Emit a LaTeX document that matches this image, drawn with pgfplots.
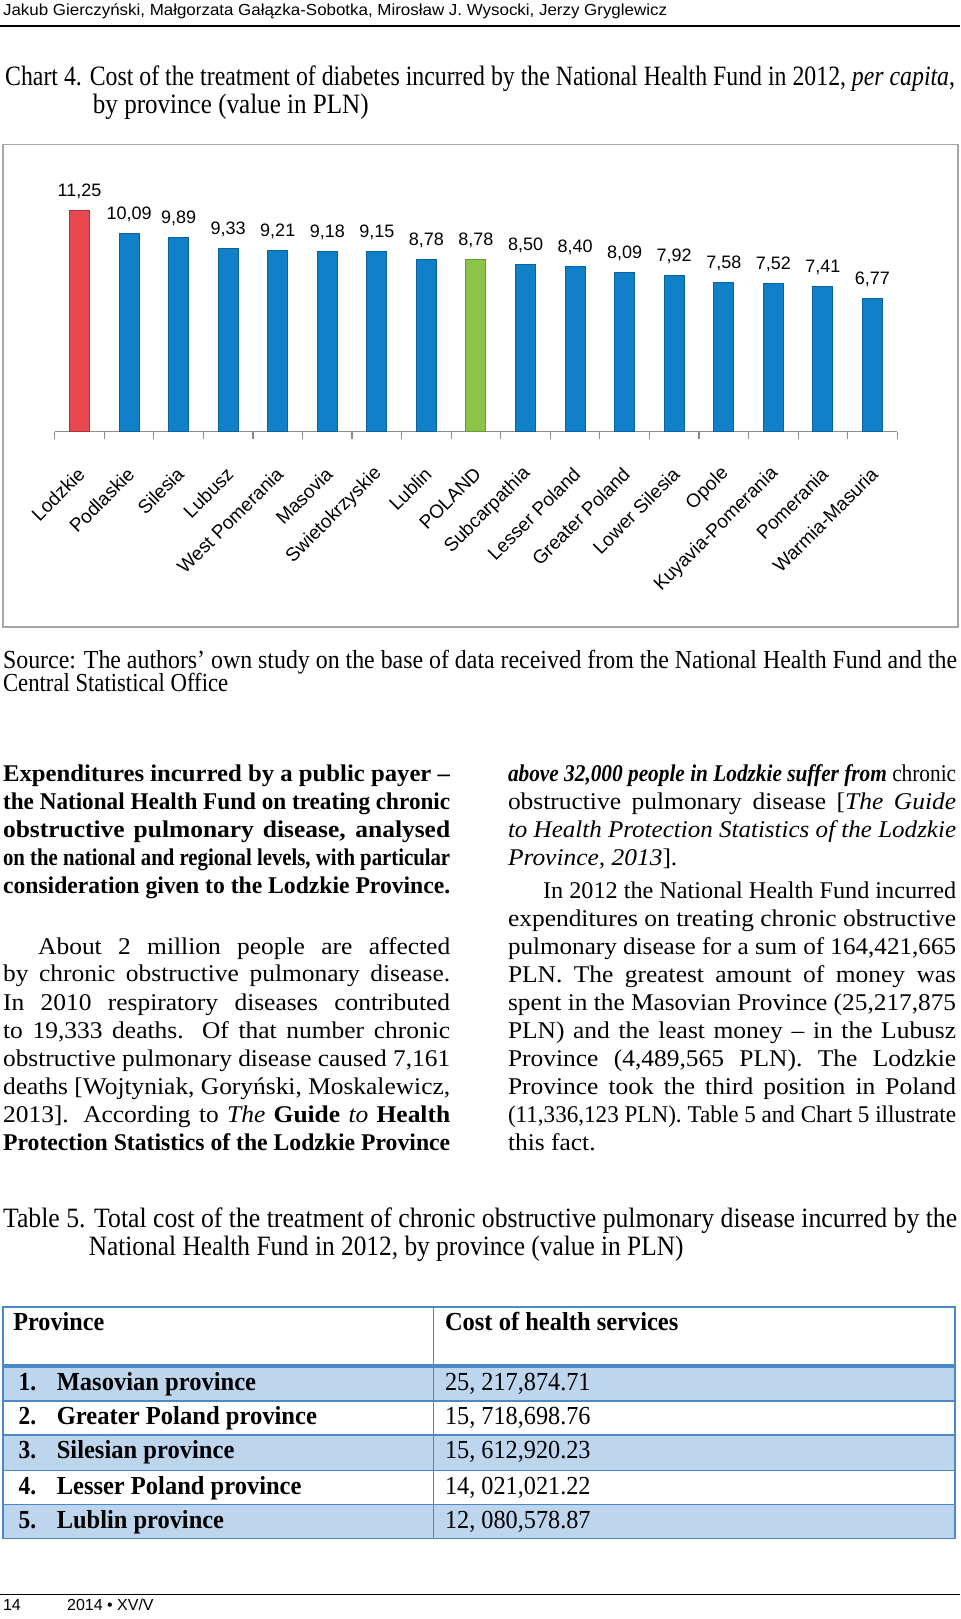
\documentclass[border=0pt]{standalone}
\usepackage{pgfplots}
\pgfplotsset{compat=1.18}
\usepackage{fontspec}
\setmainfont{Liberation Serif}
\setsansfont{Liberation Sans}
\usepackage{graphicx}

\definecolor{barblue}{HTML}{1080C8}
\definecolor{barblueD}{HTML}{0B609E}
\definecolor{barred}{HTML}{E84850}
\definecolor{barredD}{HTML}{B82D35}
\definecolor{bargreen}{HTML}{8CC44A}
\definecolor{bargreenD}{HTML}{659E30}
\definecolor{tblue}{HTML}{4A88C7}
\definecolor{tfill}{HTML}{BDD6EE}
\definecolor{boxgray}{HTML}{A6A6A6}
\definecolor{axgray}{HTML}{8C8C8C}

\newdimen\pxu \pxu=0.516129pt
\newlength\jlw \newlength\jtw
% justify a line to a width given in px
\newcommand\jline[3][1]{\pgfmathsetlength\jtw{#2*0.516129/#1}\settowidth\jlw{#3}%
 \ifdim\jlw>\jtw\relax\resizebox{#2\pxu}{\height}{#3}\else\scalebox{#1}[1]{\makebox[\jtw][s]{#3}}\fi}
% scale a line to a width given in px
\newcommand\fline[2]{\resizebox{#1\pxu}{\height}{#2}}
\newcommand\bodyf{\fontsize{12}{14}\selectfont}
\newcommand\capf{\fontsize{14}{16}\selectfont}
\newcommand\tabf{\fontsize{13}{15}\selectfont}

\begin{document}
\begin{tikzpicture}[x=0.516129pt,y=-0.516129pt,t/.style={anchor=base west,inner sep=0pt,outer sep=0pt}]
\path[use as bounding box] (0,0) rectangle (930,1568);

% header
\node[t] at (3,15) {\sffamily\fontsize{8}{9}\selectfont\fline{643}{Jakub Gierczyński, Małgorzata Gałązka-Sobotka, Mirosław J. Wysocki, Jerzy Gryglewicz}};
\draw[line width=0.7pt] (0,25) -- (930,25);

% chart caption
\node[t] at (5,83) {\capf\jline[0.88]{920}{Chart 4. Cost of the treatment of diabetes incurred by the National Health Fund in 2012, \textit{per capita},}};
\node[t] at (90,110) {\capf\fline{267}{by province (value in PLN)}};

% chart frame
\draw[boxgray, line width=0.8pt] (3,140) rectangle (928,607);

\begin{axis}[
  at={(27.355pt,-215.742pt)}, anchor=south west, scale only axis,
  width=421.16pt, height=137.5pt,
  xmin=-0.5, xmax=16.5, ymin=0, ymax=14,
  enlargelimits=false, clip=false,
  axis x line*=bottom, axis y line=none,
  axis line style={draw=axgray, line width=0.7pt, -},
  xtick={0,...,16},
  xticklabels={Lodzkie, Podlaskie, Silesia, Lubusz, West Pomerania, Masovia, Swietokrzyskie, Lublin, POLAND, Subcarpathia, Lesser Poland, Greater Poland, Lower Silesia, Opole, Kuyavia-Pomerania, Pomerania, Warmia-Masuria},
  minor xtick={-0.5,0.5,...,16.5},
  major tick length=0pt, minor tick length=3.6pt, tick align=outside,
  minor tick style={draw=axgray, line width=0.6pt},
  xticklabel style={font=\sffamily\fontsize{9.5}{10}\selectfont, yshift=-19.5pt, xshift=1pt, rotate=45, anchor=east, inner sep=0pt},
  ytick=\empty,
  nodes near coords, point meta=explicit symbolic,
  every node near coord/.append style={font=\sffamily\fontsize{9}{10}\selectfont, anchor=base, inner sep=0pt, yshift=7pt, text=black},
  bB/.style={ybar, bar width=10pt, bar shift=0pt, draw=barblueD, line width=0.5pt, fill=barblue},
  bR/.style={ybar, bar width=10pt, bar shift=0pt, draw=barredD, line width=0.5pt, fill=barred},
  bG/.style={ybar, bar width=10pt, bar shift=0pt, draw=bargreenD, line width=0.5pt, fill=bargreen},
]
\addplot[bR] coordinates {(0,11.25) [11,25]};
\addplot[bB] coordinates {(1,10.09) [10,09]};
\addplot[bB] coordinates {(2,9.89) [9,89]};
\addplot[bB] coordinates {(3,9.33) [9,33]};
\addplot[bB] coordinates {(4,9.21) [9,21]};
\addplot[bB] coordinates {(5,9.18) [9,18]};
\addplot[bB] coordinates {(6,9.15) [9,15]};
\addplot[bB] coordinates {(7,8.78) [8,78]};
\addplot[bG] coordinates {(8,8.78) [8,78]};
\addplot[bB] coordinates {(9,8.50) [8,50]};
\addplot[bB] coordinates {(10,8.40) [8,40]};
\addplot[bB] coordinates {(11,8.09) [8,09]};
\addplot[bB] coordinates {(12,7.92) [7,92]};
\addplot[bB] coordinates {(13,7.58) [7,58]};
\addplot[bB] coordinates {(14,7.52) [7,52]};
\addplot[bB] coordinates {(15,7.41) [7,41]};
\addplot[bB] coordinates {(16,6.77) [6,77]};
\end{axis}

% source
\node[t] at (3,647) {\fontsize{13}{15}\selectfont\jline[0.92]{924}{Source: The authors’ own study on the base of data received from the National Health Fund and the}};
\node[t] at (3,670) {\fontsize{13}{15}\selectfont\fline{218}{Central Statistical Office}};

% left column
\node[t] at (3,757) {\bodyf\jline[1.06]{433}{\textbf{Expenditures incurred by a public payer –}}};
\node[t] at (3,784) {\bodyf\jline[1.06]{433}{\textbf{the National Health Fund on treating chronic}}};
\node[t] at (3,811) {\bodyf\jline[1.06]{433}{\textbf{obstructive pulmonary disease, analysed}}};
\node[t] at (3,838) {\bodyf\jline[1.06]{433}{\textbf{on the national and regional levels, with particular}}};
\node[t] at (3,865) {\bodyf\jline[1.06]{433}{\textbf{consideration given to the Lodzkie Province.}}};
\node[t] at (37,924) {\bodyf\jline[1.06]{399}{About 2 million people are affected}};
\node[t] at (3,951) {\bodyf\jline[1.06]{433}{by chronic obstructive pulmonary disease.}};
\node[t] at (3,979) {\bodyf\jline[1.06]{433}{In 2010 respiratory diseases contributed}};
\node[t] at (3,1006) {\bodyf\jline[1.06]{433}{to 19,333 deaths. Of that number chronic}};
\node[t] at (3,1033) {\bodyf\jline[1.06]{433}{obstructive pulmonary disease caused 7,161}};
\node[t] at (3,1060) {\bodyf\jline[1.06]{433}{deaths [Wojtyniak, Goryński, Moskalewicz,}};
\node[t] at (3,1087) {\bodyf\jline[1.06]{433}{2013]. According to \textit{The} \textbf{Guide} \textit{to} \textbf{Health}}};
\node[t] at (3,1114) {\bodyf\jline[1.06]{433}{\textbf{Protection Statistics of the Lodzkie Province}}};

% right column
\node[t] at (492,757) {\bodyf\jline[1.06]{434}{\textbf{\textit{above 32,000 people in Lodzkie suffer from}} chronic}};
\node[t] at (492,784) {\bodyf\jline[1.06]{434}{obstructive pulmonary disease [\textit{The Guide}}};
\node[t] at (492,811) {\bodyf\jline[1.06]{434}{\textit{to Health Protection Statistics of the Lodzkie}}};
\node[t] at (492,838) {\bodyf\scalebox{1.06}[1]{\textit{Province, 2013}].}};
\node[t] at (526,870) {\bodyf\jline[1.06]{400}{In 2012 the National Health Fund incurred}};
\node[t] at (492,897) {\bodyf\jline[1.06]{434}{expenditures on treating chronic obstructive}};
\node[t] at (492,924) {\bodyf\jline[1.06]{434}{pulmonary disease for a sum of 164,421,665}};
\node[t] at (492,952) {\bodyf\jline[1.06]{434}{PLN. The greatest amount of money was}};
\node[t] at (492,979) {\bodyf\jline[1.06]{434}{spent in the Masovian Province (25,217,875}};
\node[t] at (492,1006) {\bodyf\jline[1.06]{434}{PLN) and the least money – in the Lubusz}};
\node[t] at (492,1033) {\bodyf\jline[1.06]{434}{Province (4,489,565 PLN). The Lodzkie}};
\node[t] at (492,1060) {\bodyf\jline[1.06]{434}{Province took the third position in Poland}};
\node[t] at (492,1087) {\bodyf\jline[1.06]{434}{(11,336,123 PLN). Table 5 and Chart 5 illustrate}};
\node[t] at (492,1114) {\bodyf\scalebox{1.06}[1]{this fact.}};

% table caption
\node[t] at (3,1189) {\capf\jline[0.92]{924}{Table 5. Total cost of the treatment of chronic obstructive pulmonary disease incurred by the}};
\node[t] at (86,1216) {\capf\fline{576}{National Health Fund in 2012, by province (value in PLN)}};

% table
\fill[tfill] (3,1323) rectangle (925,1357);
\fill[tfill] (3,1390) rectangle (925,1424);
\fill[tfill] (3,1457) rectangle (925,1490);
\draw[tblue, line width=0.8pt] (3,1266) rectangle (925,1490);
\foreach \yy in {1357,1390,1424,1457} \draw[tblue, line width=0.8pt] (3,\yy) -- (925,\yy);
\draw[tblue, line width=1.6pt] (3,1323) -- (925,1323);
\draw[tblue, line width=0.8pt] (420,1266) -- (420,1490);

\node[t] at (13,1289) {\tabf\fline{88}{\textbf{Province}}};
\node[t] at (431,1289) {\tabf\fline{226}{\textbf{Cost of health services}}};

\node[t] at (18,1347) {\tabf\scalebox{0.9}[1]{\textbf{1.}}};
\node[t] at (55,1347) {\tabf\fline{193}{\textbf{Masovian province}}};
\node[t] at (431,1347) {\tabf\fline{141}{25, 217,874.71}};
\node[t] at (18,1380) {\tabf\scalebox{0.9}[1]{\textbf{2.}}};
\node[t] at (55,1380) {\tabf\fline{252}{\textbf{Greater Poland province}}};
\node[t] at (431,1380) {\tabf\fline{141}{15, 718,698.76}};
\node[t] at (18,1413) {\tabf\scalebox{0.9}[1]{\textbf{3.}}};
\node[t] at (55,1413) {\tabf\fline{172}{\textbf{Silesian province}}};
\node[t] at (431,1413) {\tabf\fline{141}{15, 612,920.23}};
\node[t] at (18,1447) {\tabf\scalebox{0.9}[1]{\textbf{4.}}};
\node[t] at (55,1447) {\tabf\fline{237}{\textbf{Lesser Poland province}}};
\node[t] at (431,1447) {\tabf\fline{141}{14, 021,021.22}};
\node[t] at (18,1480) {\tabf\scalebox{0.9}[1]{\textbf{5.}}};
\node[t] at (55,1480) {\tabf\fline{162}{\textbf{Lublin province}}};
\node[t] at (431,1480) {\tabf\fline{141}{12, 080,578.87}};

% footer
\draw[line width=0.7pt] (0,1544) -- (930,1544);
\node[t] at (3,1560) {\sffamily\fontsize{8}{9}\selectfont 14};
\node[t] at (65,1560) {\sffamily\fontsize{8}{9}\selectfont 2014 • XV/V};
\end{tikzpicture}
\end{document}
